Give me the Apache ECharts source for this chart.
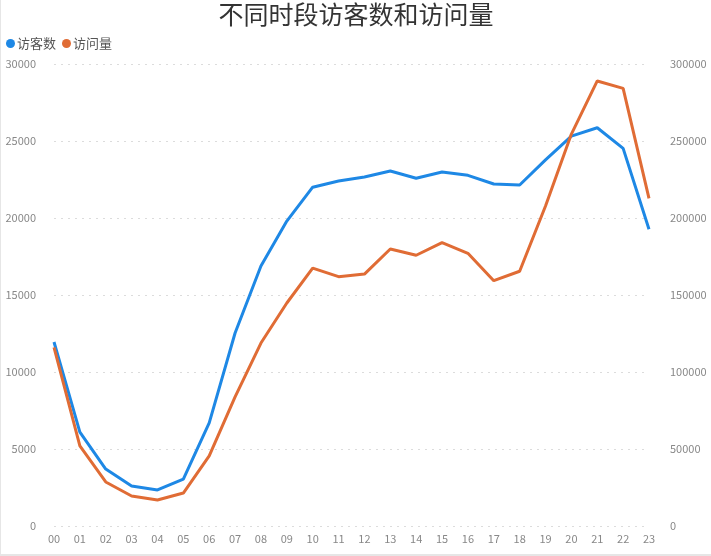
<!DOCTYPE html>
<html>
<head>
<meta charset="utf-8">
<title>不同时段访客数和访问量</title>
<script src="https://cdn.jsdelivr.net/npm/echarts@6/dist/echarts.min.js"></script>
<style>
	html, body { margin: 0; padding: 0; background: #fff; }
	#chartDiv { width: 710px; height: 554px; border-left: 1px solid #e6e6e6; border-bottom: 2px solid #e6e6e6; }
</style>
</head>
<body>
<div id="chartDiv"></div>
<script>
	// 时段
	var hours = ['00','01','02','03','04','05','06','07','08','09','10','11',
		'12','13','14','15','16','17','18','19','20','21','22','23'];
	// 访客数（左轴）
	var visitors = [11950, 6100, 3700, 2600, 2340, 3050, 6700, 12530, 16880, 19800, 22000, 22400,
		22660, 23050, 22580, 22990, 22770, 22210, 22140, 23770, 25320, 25860, 24520, 19270];
	// 访问量（右轴）
	var visits = [116000, 52000, 28600, 19500, 16900, 21400, 45500, 83800, 118800, 144800, 167500, 161900,
		163600, 179900, 175800, 184000, 177100, 159300, 165400, 207800, 254500, 289000, 284200, 212800];
	var legendNames = ['访客数', '访问量'];

	var font = '"Noto Sans CJK SC", "Noto Sans", sans-serif';
	function plain(v) { return String(v); }
	var myChart = echarts.init(document.getElementById('chartDiv'));
	var option = {
		textStyle: { fontFamily: font },
		title: {
			text: '不同时段访客数和访问量',
			left: 'center',
			top: -3,
			textStyle: { fontSize: 25, fontWeight: 'normal', color: '#333', fontFamily: font }
		},
		legend: {
			data: legendNames,
			left: 0,
			top: 32,
			icon: 'circle',
			itemWidth: 9,
			itemHeight: 9,
			itemGap: 6,
			textStyle: { fontSize: 13, color: '#555', padding: [0, 0, 0, -3] }
		},
		grid: { left: 53, right: 62, top: 64, bottom: 28 },
		color: ['#1e88e5', '#e06c35'],
		xAxis: {
			type: 'category',
			data: hours,
			boundaryGap: false,
			axisLine: { show: false },
			axisTick: { show: false },
			axisLabel: { color: '#888', fontSize: 11, margin: 7 }
		},
		yAxis: [{
			type: 'value',
			min: 0,
			max: 30000,
			interval: 5000,
			axisLine: { show: false },
			axisTick: { show: false },
			axisLabel: { color: '#888', fontSize: 11, margin: 18, formatter: plain },
			splitLine: { lineStyle: { type: [2, 5], color: '#dcdcdc' } }
		}, {
			type: 'value',
			min: 0,
			max: 300000,
			interval: 50000,
			axisLine: { show: false },
			axisTick: { show: false },
			axisLabel: { color: '#888', fontSize: 11, margin: 21, formatter: plain },
			splitLine: { show: false }
		}],
		series: [{
			name: legendNames[0],
			type: 'line',
			data: visitors,
			showSymbol: false,
			lineStyle: { width: 3 }
		}, {
			name: legendNames[1],
			type: 'line',
			yAxisIndex: 1,
			data: visits,
			showSymbol: false,
			lineStyle: { width: 3 }
		}]
	};
	myChart.setOption(option);
</script>
</body>
</html>
